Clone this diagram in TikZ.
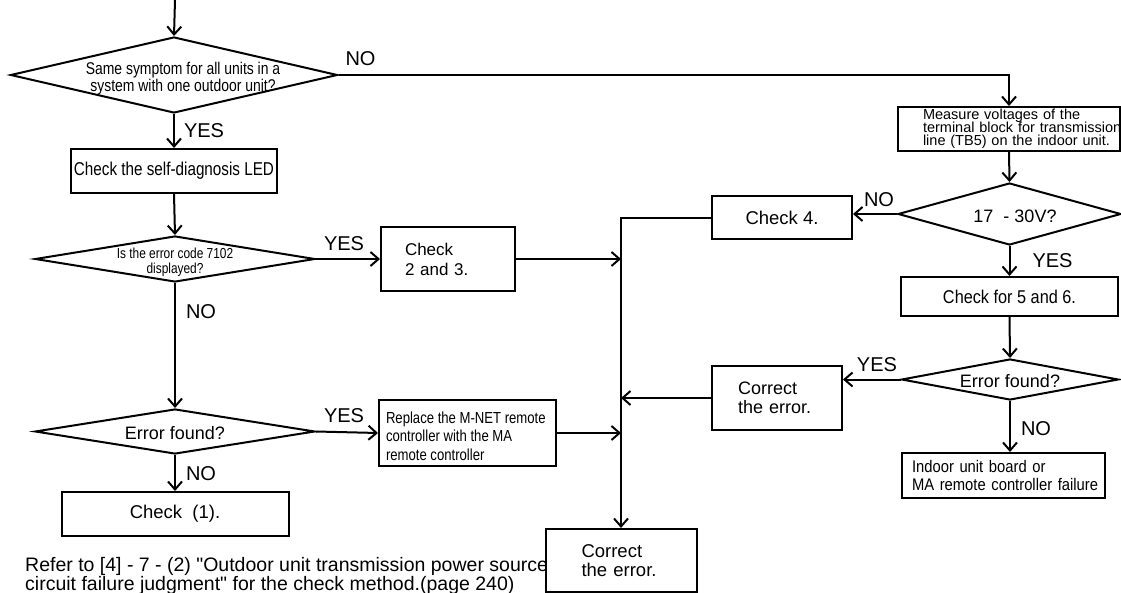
\documentclass[tikz,border=0pt]{standalone}
\usepackage{fontspec}
\setmainfont{Liberation Sans}
\newfontfamily\plainsans{Liberation Sans}
\newfontfamily\narrowfont{Liberation Sans}[FakeStretch=0.82]
\newfontfamily\semifont{Liberation Sans}[FakeStretch=0.88]
\usetikzlibrary{shapes.geometric, arrows.meta}
\newcommand{\fsz}[2]{\fontsize{#1}{#2}\selectfont}
\newcommand{\tight}{\lineskiplimit=-100pt}
\newcommand{\dtext}[2][0pt]{\makebox[0pt]{\hspace*{#1}\smash{\raisebox{-0.5em}{\begin{tabular}{@{}c@{}}#2\end{tabular}}}}}

\begin{document}
\begin{tikzpicture}[x=1pt, y=-1pt,
    every node/.style={font=\fsz{18}{19}},
    box/.style={draw, line width=2pt, rectangle, inner sep=0pt, align=center},
    decision/.style={draw, line width=2pt, diamond, inner sep=0pt, aspect=1},
    yesno/.style={font=\fsz{20}{20}, inner sep=0pt},
    flow/.style={line width=2pt, -{Straight Barb[length=8pt,width=14pt]}}]
    \useasboundingbox (0,0) rectangle (1121,593);

    % left column
    \coordinate (entry) at (175,0);
    \node[decision, minimum width=327pt, minimum height=76pt, font=\narrowfont\fsz{17}{16}] (samesym) at (174,75)
        {\dtext[18pt]{Same symptom for all units in a\\system with one outdoor unit?}};
    \node[box, minimum width=206pt, minimum height=44pt, font=\narrowfont\fsz{18.6}{19}] (selfdiag) at (174,171) {Check the self-diagnosis LED};
    \node[decision, minimum width=280pt, minimum height=46pt, font=\narrowfont\fsz{14.5}{15}] (errcode) at (175,259)
        {\dtext{Is the error code 7102\\displayed?}};
    \node[decision, minimum width=280pt, minimum height=45pt] (errfound1) at (175,431.5) {\dtext{Error found?}};
    \node[box, minimum width=227pt, minimum height=44pt, font=\fsz{18.5}{19}] (check1) at (175,514) {Check\ \ (1).};
    \node[anchor=west, align=left, inner sep=0pt, font=\plainsans\fsz{19.5}{19}\tight] (note) at (25,575.5)
        {Refer to [4] - 7 - (2) "Outdoor unit transmission power source\\circuit failure judgment" for the check method.(page 240)};

    % middle column
    \node[box, align=left, minimum height=64pt, text width=86pt, inner xsep=24pt, font=\fsz{17}{20}] (chk23) at (448,259) {Check\\2 and 3.};
    \node[box, minimum height=66pt, inner xsep=7pt, font=\narrowfont\fsz{16}{18.5}] (replace) at (467.5,433)
        {\makebox[163pt][l]{\smash{\raisebox{-0.6em}{\begin{tabular}{@{}l@{}}Replace the M-NET remote\\controller with the MA\\remote controller\end{tabular}}}}};
    \node[box, minimum width=140pt, minimum height=43pt, font=\fsz{18.5}{19}] (chk4) at (782,218) {Check 4.};
    \node[box, align=left, minimum height=64pt, text width=78pt, inner xsep=26pt] (fix1) at (777,398) {\mbox{Correct}\\\mbox{the error.}};
    \node[box, align=left, minimum height=63pt, text width=79pt, inner xsep=36pt, font=\fsz{18.5}{19}] (fix2) at (621,560.5) {\mbox{Correct}\\\mbox{the error.}};

    % right column
    \node[box, align=left, minimum height=44pt, text width=172pt, inner xsep=25pt, font=\fsz{14.5}{13}\tight] (measure) at (1009,129)
        {\mbox{Measure voltages of the}\\\mbox{terminal block for transmission}\\\mbox{line (TB5) on the indoor unit.}};
    \node[decision, minimum width=223pt, minimum height=62pt] (volt) at (1009.5,214) {\dtext[11pt]{17\ \ - 30V?}};
    \node[box, minimum width=217pt, minimum height=39pt, font=\semifont\fsz{18.5}{19}] (chk56) at (1009.5,296.5) {Check for 5 and 6.};
    \node[decision, minimum width=217pt, minimum height=41pt] (errfound2) at (1010,379.5) {\dtext{Error found?}};
    \node[box, align=left, minimum height=45pt, text width=183pt, inner xsep=10pt, font=\semifont\fsz{16.8}{18}] (indoor) at (1003.5,475.5)
        {\mbox{Indoor unit board or}\\\mbox{MA remote controller failure}};

    % connectors
    \draw[flow] (entry) -- (samesym.north);
    \draw[flow] (samesym.south) -- node[yesno, anchor=west, xshift=9pt] (yes1) {YES} (selfdiag.north);
    \draw[flow] (samesym.east) -- node[yesno, pos=0, anchor=south west, xshift=6pt, yshift=8pt] (no1) {NO}
        (samesym.east -| measure.north) -- (measure.north);
    \draw[flow] (selfdiag.south) -- (errcode.north);
    \draw[flow] (errcode.east) -- node[yesno, pos=0, anchor=south west, xshift=7pt, yshift=7pt] (yes2) {YES} (chk23.west);
    \draw[flow] (errcode.south) -- node[yesno, pos=0, anchor=north west, xshift=10pt, yshift=-21pt] (no2) {NO} (errfound1.north);
    \draw[flow] (errfound1.east) -- node[yesno, pos=0, anchor=south west, xshift=7pt, yshift=7.5pt] (yes3) {YES} (replace.west);
    \draw[flow] (errfound1.south) -- node[yesno, pos=0, anchor=north west, xshift=10pt, yshift=-11pt] (no3) {NO} (check1.north);

    \draw[flow] (measure.south) -- (volt.north);
    \draw[flow] (volt.west) -- node[yesno, pos=0, anchor=south east, xshift=-2pt, yshift=6pt] (no4) {NO} (volt.west -| chk4.east);
    \draw[flow] (volt.south) -- node[yesno, pos=0, anchor=north west, xshift=22pt, yshift=-7pt] (yes5) {YES} (chk56.north);
    \draw[flow] (chk56.south) -- (errfound2.north);
    \draw[flow] (errfound2.west) -- node[yesno, pos=0, anchor=south east, xshift=-2.5pt, yshift=6.5pt] (yes6) {YES} (errfound2.west -| fix1.east);
    \draw[flow] (errfound2.south) -- node[yesno, pos=0, anchor=north west, xshift=10pt, yshift=-20pt] (no6) {NO} (errfound2.south |- indoor.north);

    % collecting line
    \draw[flow] (chk4.west) -- (chk4.west -| fix2.north) -- (fix2.north);
    \draw[flow] (chk23.east) -- (chk23.east -| fix2.north);
    \draw[flow] (fix1.west) -- (fix1.west -| fix2.north);
    \draw[flow] (replace.east) -- (replace.east -| fix2.north);
\end{tikzpicture}
\end{document}
